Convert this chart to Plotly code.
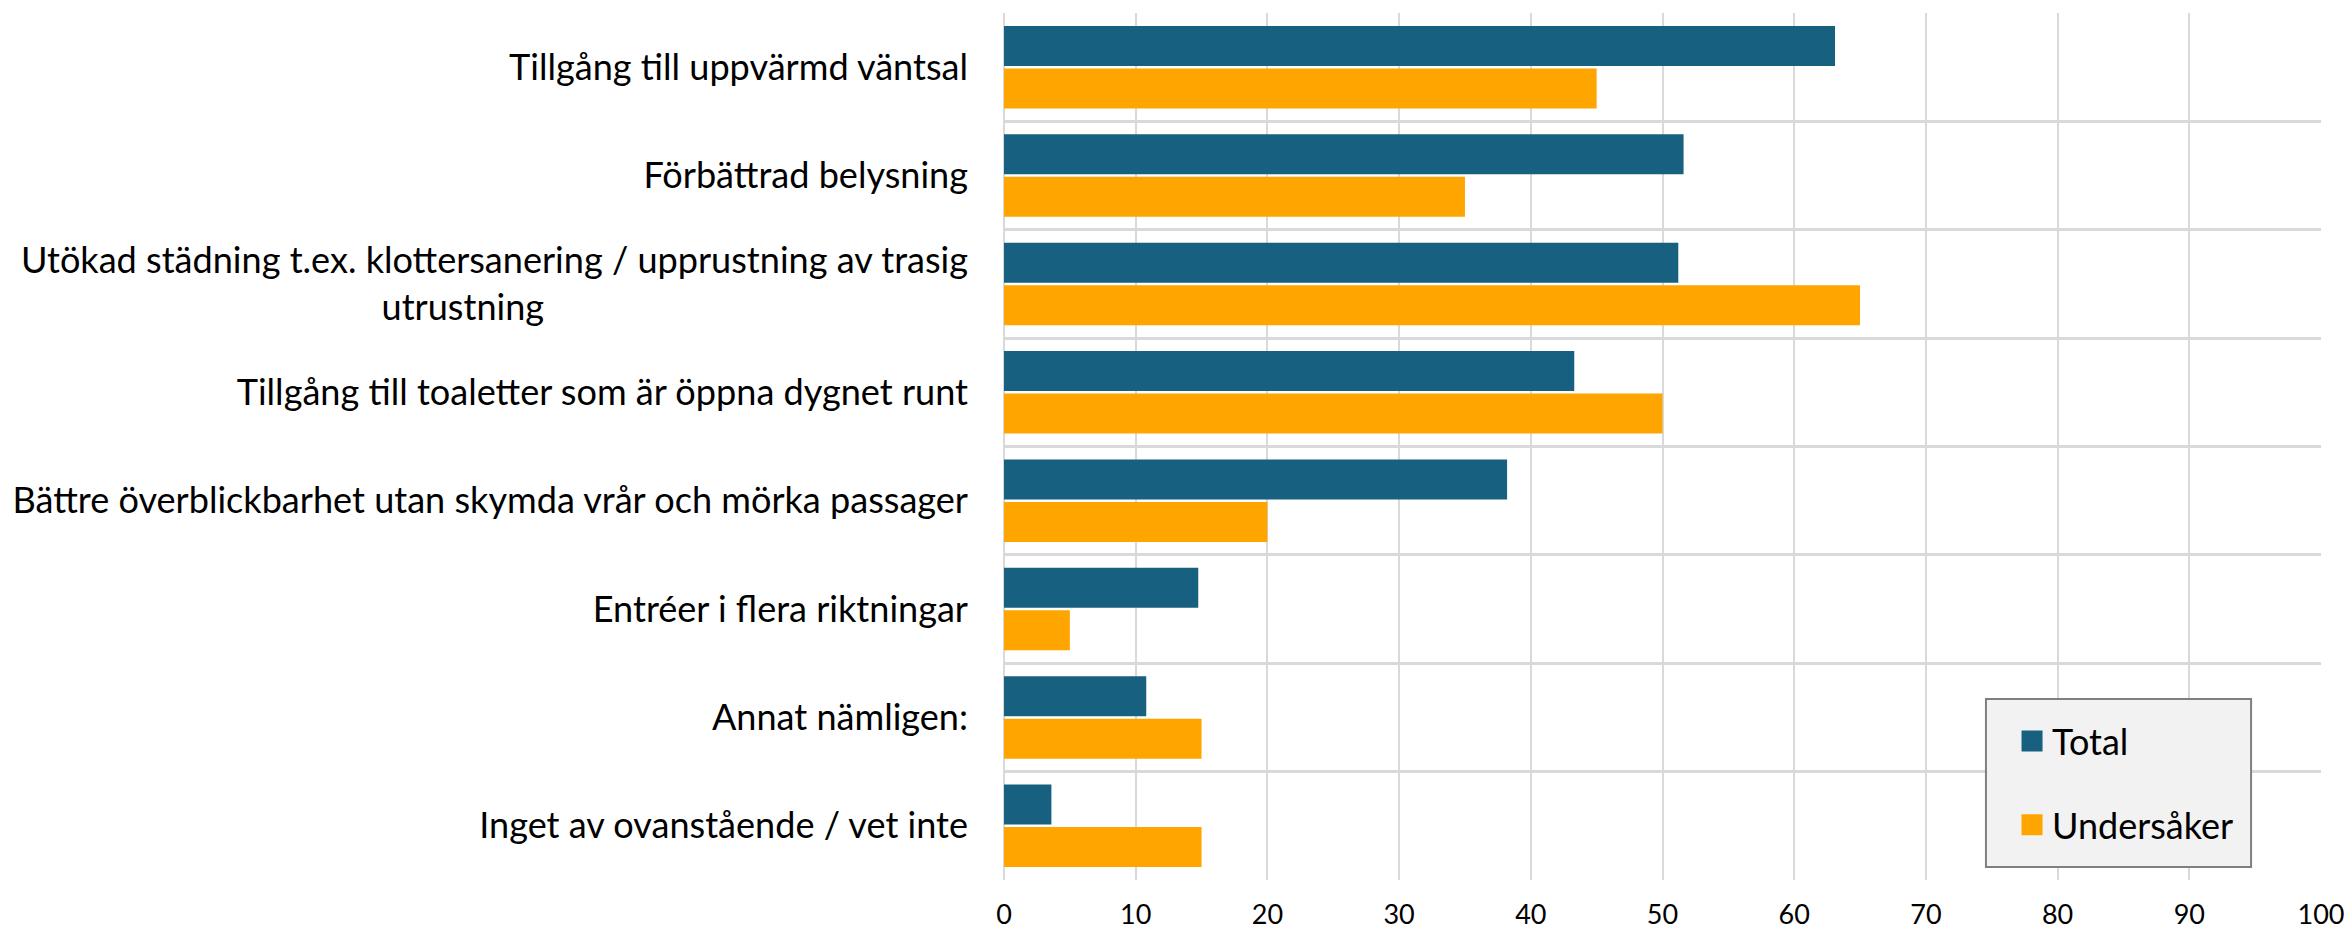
import plotly.graph_objects as go

categories = [
    "Tillgång till uppvärmd väntsal",
    "Förbättrad belysning",
    "Utökad städning t.ex. klottersanering / upprustning av trasig<br>utrustning" + "\u2003" * 15 + "\u2002",
    "Tillgång till toaletter som är öppna dygnet runt",
    "Bättre överblickbarhet utan skymda vrår och mörka passager",
    "Entréer i flera riktningar",
    "Annat nämligen:",
    "Inget av ovanstående / vet inte",
]
total = [63.1, 51.6, 51.2, 43.3, 38.2, 14.75, 10.8, 3.6]
undersaker = [45.0, 35.0, 65.0, 50.0, 20.0, 5.0, 15.0, 15.0]
series_names = ["Total", "Undersåker"]
series_colors = ["#17607F", "#FFA500"]
x_ticks = list(range(0, 101, 10))

FONT = "Lato"

fig = go.Figure()
for name, vals, col in zip(series_names, [total, undersaker], series_colors):
    fig.add_trace(go.Bar(
        y=categories, x=vals, orientation="h", name=name,
        marker=dict(color=col, line=dict(width=0)),
        showlegend=False,
    ))
for i, (name, col) in enumerate(zip(series_names, series_colors)):
    fig.add_trace(go.Scatter(
        x=[None], y=[None], mode="markers", name=name, legendgroup=f"g{i}",
        marker=dict(symbol="square", size=16, color=col, line=dict(width=5, color=col)),
    ))

# legend frame
fig.add_shape(
    type="rect", xref="paper", yref="paper",
    x0=0.7456, x1=0.9469, y0=0.015, y1=0.2088,
    fillcolor="#F2F2F2", line=dict(color="#7F7F7F", width=2), layer="above",
)

fig.update_layout(
    width=2344, height=932,
    margin=dict(l=1004, r=23, t=13, b=52, autoexpand=False),
    paper_bgcolor="white", plot_bgcolor="white",
    font=dict(family=FONT, color="black", size=36),
    barmode="group", bargap=0.216, bargroupgap=0.06,
    legend=dict(
        x=0.7654, y=0.1119, xanchor="left", yanchor="middle",
        bgcolor="rgba(0,0,0,0)", borderwidth=0,
        font=dict(family=FONT, size=36, color="black"),
        tracegroupgap=34,
    ),
)
fig.update_xaxes(
    range=[0, 100], tickvals=x_ticks, showgrid=True, gridcolor="#D9D9D9", gridwidth=2,
    zeroline=True, zerolinecolor="#D9D9D9", zerolinewidth=2,
    ticks="", ticklabelstandoff=16, tickfont=dict(size=27, family=FONT),
    ticklabeloverflow="allow", automargin=False, fixedrange=True,
)
fig.update_yaxes(
    type="category", autorange="reversed", tickson="boundaries",
    showgrid=True, gridcolor="#D9D9D9", gridwidth=3,
    ticks="", ticklabelstandoff=35, tickfont=dict(size=36.1, family=FONT),
    automargin=False,
)

fig.write_html(
    "out.html",
    config={"displayModeBar": False},
    post_script="document.body.style.margin='0';document.body.style.overflow='hidden';",
)
